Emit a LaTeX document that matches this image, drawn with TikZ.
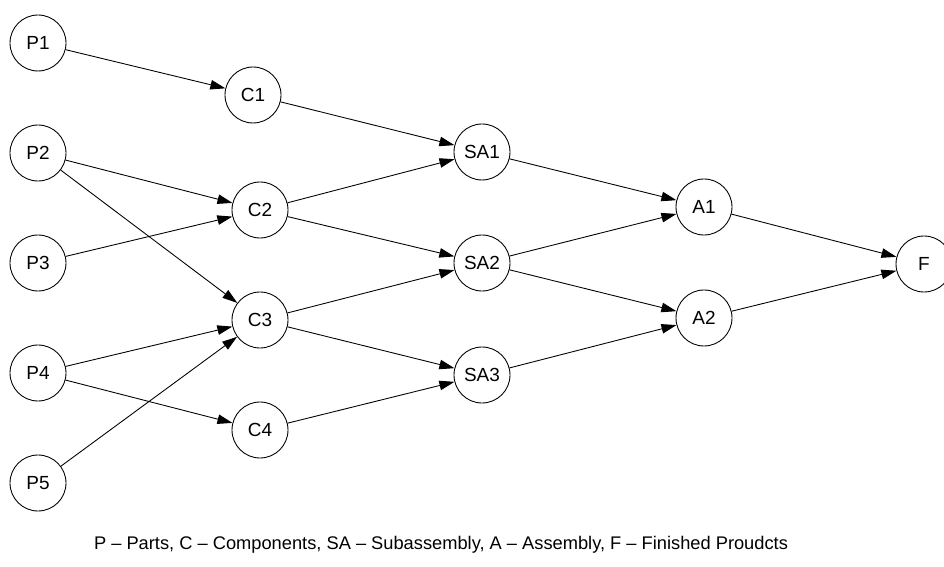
\documentclass[tikz,border=0pt]{standalone}
\usepackage{fontspec}
\setmainfont{Liberation Sans}
\usetikzlibrary{arrows.meta}
\tikzset{
	stage/.style={draw, circle, line width=0.5pt, minimum size=1.12cm, inner sep=0pt, font=\fontsize{10.8}{12}\selectfont},
	flow/.style={line width=0.5pt, -{Triangle[length=3mm, width=1.9mm]}}
}

\begin{document}
\begin{tikzpicture}[x=0.02cm, y=-0.02cm]
			%%%%% START %%%%%
			
			\useasboundingbox (0, 0) rectangle (944, 567);
			
			\node[stage] (P1) at (38, 43) {P1};
			\node[stage] (P2) at (38, 153) {P2};
			\node[stage] (P3) at (38, 263) {P3};
			\node[stage] (P4) at (38, 373) {P4};
			\node[stage] (P5) at (38, 483) {P5};
			
			\node[stage] (C1) at (253, 95) {C1};
			\node[stage] (C2) at (260, 210) {C2};
			\node[stage] (C3) at (260, 320) {C3};
			\node[stage] (C4) at (260, 430) {C4};
			
			\node[stage] (SA1) at (482, 152) {SA1};
			\node[stage] (SA2) at (482, 263) {SA2};
			\node[stage] (SA3) at (482, 375) {SA3};
			
			\node[stage] (A1) at (704, 207) {A1};
			\node[stage] (A2) at (704, 318) {A2};
			
			\node[stage] (F) at (924, 264) {F};
			
			\draw[flow] (P1) -- (C1);
			\draw[flow] (P2) -- (C2);
			\draw[flow] (P2) -- (C3);
			\draw[flow] (P3) -- (C2);
			\draw[flow] (P4) -- (C3);
			\draw[flow] (P4) -- (C4);
			\draw[flow] (P5) -- (C3);
			
			\draw[flow] (C1) -- (SA1);
			\draw[flow] (C2) -- (SA1);
			\draw[flow] (C2) -- (SA2);
			\draw[flow] (C3) -- (SA2);
			\draw[flow] (C3) -- (SA3);
			\draw[flow] (C4) -- (SA3);
			
			\draw[flow] (SA1) -- (A1);
			\draw[flow] (SA2) -- (A1);
			\draw[flow] (SA2) -- (A2);
			\draw[flow] (SA3) -- (A2);
			
			\draw[flow] (A1) -- (F);
			\draw[flow] (A2) -- (F);
			
			\node[font=\fontsize{10.4}{12}\selectfont] (legend) at (441, 545) {P -- Parts, C -- Components, SA -- Subassembly, A -- Assembly, F -- Finished Proudcts};
			
			%%%%% END %%%%%
\end{tikzpicture}
\end{document}
